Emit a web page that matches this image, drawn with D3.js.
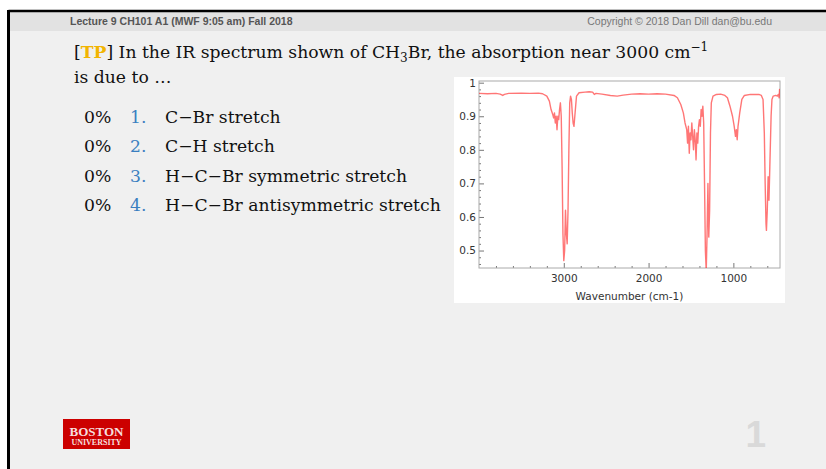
<!DOCTYPE html>
<html>
<head>
<meta charset="utf-8">
<script src="https://cdn.jsdelivr.net/npm/d3@7"></script>
<style>
  body { margin: 0; background: #fff; }
  svg { display: block; }
</style>
</head>
<body>
<div id="container"></div>
<script>
/* DATA */
const wavenumbers = [4000, 3900, 3800, 3750, 3720, 3700, 3650, 3500, 3400, 3300, 3250, 3200, 3170, 3150, 3130, 3120, 3110, 3100, 3090, 3080, 3070, 3060, 3050, 3040, 3030, 3020, 3010, 3000, 2990, 2980, 2970, 2960, 2950, 2940, 2930, 2920, 2910, 2900, 2890, 2880, 2870, 2860, 2850, 2820, 2750, 2700, 2660, 2640, 2620, 2550, 2450, 2370, 2300, 2200, 2100, 2000, 1900, 1800, 1700, 1660, 1620, 1590, 1570, 1550, 1540, 1530, 1520, 1510, 1500, 1490, 1480, 1470, 1460, 1450, 1440, 1430, 1420, 1410, 1400, 1390, 1380, 1370, 1360, 1350, 1340, 1330, 1320, 1310, 1300, 1290, 1280, 1270, 1260, 1240, 1200, 1150, 1100, 1070, 1040, 1010, 990, 975, 965, 955, 945, 925, 900, 870, 800, 700, 670, 650, 635, 625, 615, 610, 600, 590, 580, 570, 555, 545, 530, 500, 480, 470, 460, 455, 450];
const transmittance = [0.968, 0.967, 0.968, 0.966, 0.962, 0.965, 0.968, 0.969, 0.968, 0.969, 0.967, 0.960, 0.945, 0.92, 0.905, 0.895, 0.91, 0.88, 0.90, 0.86, 0.90, 0.89, 0.92, 0.94, 0.90, 0.75, 0.55, 0.47, 0.50, 0.62, 0.55, 0.52, 0.62, 0.80, 0.94, 0.96, 0.95, 0.91, 0.88, 0.87, 0.90, 0.93, 0.96, 0.97, 0.972, 0.973, 0.972, 0.965, 0.968, 0.966, 0.962, 0.960, 0.963, 0.966, 0.967, 0.966, 0.967, 0.966, 0.962, 0.955, 0.935, 0.91, 0.88, 0.86, 0.82, 0.87, 0.79, 0.85, 0.83, 0.88, 0.84, 0.80, 0.86, 0.83, 0.77, 0.85, 0.82, 0.87, 0.89, 0.87, 0.92, 0.90, 0.93, 0.88, 0.70, 0.50, 0.44, 0.55, 0.70, 0.54, 0.62, 0.85, 0.94, 0.96, 0.965, 0.966, 0.962, 0.955, 0.93, 0.90, 0.87, 0.84, 0.86, 0.83, 0.87, 0.91, 0.95, 0.962, 0.965, 0.965, 0.962, 0.95, 0.85, 0.70, 0.58, 0.56, 0.62, 0.72, 0.65, 0.75, 0.90, 0.95, 0.96, 0.962, 0.96, 0.965, 0.955, 0.98, 0.97];

const xTickValues = [3000, 2000, 1000];
const yTickValues = [0.5, 0.6, 0.7, 0.8, 0.9, 1];
const percents = ["0%", "0%", "0%", "0%"];
const choiceNumbers = ["1.", "2.", "3.", "4."];
const choices = ["C\u2212Br stretch", "C\u2212H stretch", "H\u2212C\u2212Br symmetric stretch", "H\u2212C\u2212Br antisymmetric stretch"];

/* CONSTANTS */
const width = 826, height = 469;
const plot = { left: 479, right: 780, top: 81, bottom: 268 };
const serif = "'DejaVu Serif', serif";
const sans = "'DejaVu Sans', sans-serif";

const svg = d3.select("#container")
  .append("svg")
  .attr("width", width)
  .attr("height", height);

/* SLIDE BACKGROUND */
svg.append("rect").attr("x", 8).attr("y", 11).attr("width", width - 8).attr("height", height - 11).attr("fill", "#f0f0f0");
svg.append("rect").attr("x", 8).attr("y", 11).attr("width", width - 8).attr("height", 20).attr("fill", "#e2e2e2");
svg.append("line").attr("x1", 8.5).attr("x2", width).attr("y1", 11).attr("y2", 11).attr("stroke", "#000").attr("stroke-width", 2.5);
svg.append("line").attr("x1", 8.5).attr("x2", 8.5).attr("y1", 10).attr("y2", height).attr("stroke", "#000").attr("stroke-width", 3);

// header
svg.append("text").attr("x", 70).attr("y", 25)
  .attr("font-family", "'Liberation Sans Narrow', 'Liberation Sans', sans-serif")
  .attr("font-weight", "bold").attr("font-size", 10.5).attr("fill", "#555")
  .text("Lecture 9 CH101 A1 (MWF 9:05 am) Fall 2018");
svg.append("text").attr("x", 772).attr("y", 25).attr("text-anchor", "end")
  .attr("font-family", "'Liberation Sans Narrow', 'Liberation Sans', sans-serif")
  .attr("font-size", 10.5).attr("fill", "#777")
  .text("Copyright \u00a9 2018 Dan Dill dan@bu.edu");

/* QUESTION */
const q = svg.append("text").attr("x", 74).attr("y", 58)
  .attr("font-family", serif).attr("font-size", 17.2).attr("fill", "#111");
q.append("tspan").text("[");
q.append("tspan").attr("fill", "#f2b400").attr("font-weight", "bold").text("TP");
q.append("tspan").text("] In the IR spectrum shown of CH");
q.append("tspan").attr("font-size", 12).attr("dy", 4).text("3");
q.append("tspan").attr("dy", -4).text("Br, the absorption near 3000 cm");
q.append("tspan").attr("font-size", 12).attr("dy", -7).text("\u22121");

svg.append("text").attr("x", 74).attr("y", 83)
  .attr("font-family", serif).attr("font-size", 17.2).attr("fill", "#111")
  .text("is due to \u2026");

const rows = svg.append("g").selectAll("g")
  .data(choices)
  .join("g")
  .attr("transform", (d, i) => `translate(0, ${123 + i * 29.3})`)
  .attr("font-family", serif).attr("font-size", 17.2);
rows.append("text").attr("x", 84).attr("fill", "#111").text((d, i) => percents[i]);
rows.append("text").attr("x", 130).attr("fill", "#3a7fc0").text((d, i) => choiceNumbers[i]);
rows.append("text").attr("x", 165).attr("fill", "#111").text(d => d);

/* SPECTRUM */
svg.append("rect").attr("x", 454).attr("y", 77).attr("width", 331).attr("height", 226).attr("fill", "#fff");

const xScale = d3.scaleLinear().domain([4000, 450]).range([plot.left, plot.right]);
const yScale = d3.scaleLinear().domain([0.448, 1.005]).range([plot.bottom, plot.top]);

svg.append("clipPath").attr("id", "plotclip")
  .append("rect").attr("x", plot.left).attr("y", plot.top)
  .attr("width", plot.right - plot.left).attr("height", plot.bottom - plot.top);

// minor ticks
const xMinor = d3.range(600, 4000, 200).filter(v => !xTickValues.includes(v));
const yMinor = d3.range(0.46, 1.0, 0.02).filter(v => !yTickValues.some(t => Math.abs(t - v) < 1e-6));

svg.append("g")
  .attr("transform", `translate(0, ${plot.bottom})`)
  .call(d3.axisBottom(xScale).tickValues(xMinor).tickSize(-2).tickFormat(""))
  .call(g => g.select(".domain").remove())
  .call(g => g.selectAll("line").attr("stroke", "#777"));
svg.append("g")
  .attr("transform", `translate(${plot.left}, 0)`)
  .call(d3.axisLeft(yScale).tickValues(yMinor).tickSize(-2).tickFormat(""))
  .call(g => g.select(".domain").remove())
  .call(g => g.selectAll("line").attr("stroke", "#777"));

// major ticks
svg.append("g")
  .attr("transform", `translate(0, ${plot.bottom})`)
  .call(d3.axisBottom(xScale).tickValues(xTickValues).tickSize(-5).tickPadding(7).tickFormat(d3.format("d")))
  .call(g => g.select(".domain").remove())
  .call(g => g.selectAll("line").attr("stroke", "#777"))
  .call(g => g.selectAll("text").attr("font-family", sans).attr("font-size", 10.5).attr("fill", "#333"));
svg.append("g")
  .attr("transform", `translate(${plot.left}, 0)`)
  .call(d3.axisLeft(yScale).tickValues(yTickValues).tickSize(-5).tickPadding(3).tickFormat(d3.format("")))
  .call(g => g.select(".domain").remove())
  .call(g => g.selectAll("line").attr("stroke", "#777"))
  .call(g => g.selectAll("text").attr("font-family", sans).attr("font-size", 10.5).attr("fill", "#333"));

svg.append("rect")
  .attr("x", plot.left).attr("y", plot.top)
  .attr("width", plot.right - plot.left).attr("height", plot.bottom - plot.top)
  .attr("fill", "none").attr("stroke", "#aaa");

const line = d3.line()
  .x((d, i) => xScale(wavenumbers[i]))
  .y(d => yScale(d));

svg.append("path")
  .datum(transmittance)
  .attr("clip-path", "url(#plotclip)")
  .attr("d", line)
  .attr("fill", "none")
  .attr("stroke", "#ff1a1a")
  .attr("stroke-opacity", 0.6)
  .attr("stroke-width", 1.4)
  .attr("stroke-linejoin", "round");

svg.append("text")
  .attr("x", (plot.left + plot.right) / 2).attr("y", 300)
  .attr("text-anchor", "middle")
  .attr("font-family", sans).attr("font-size", 10.5).attr("fill", "#333")
  .text("Wavenumber (cm-1)");

/* FOOTER */
svg.append("rect").attr("x", 63).attr("y", 419).attr("width", 67).attr("height", 30).attr("fill", "#cc0000");
svg.append("text").attr("x", 96.5).attr("y", 436).attr("text-anchor", "middle")
  .attr("font-family", "'Liberation Serif', serif").attr("font-weight", "bold")
  .attr("font-size", 13).attr("fill", "#f6dede").text("BOSTON");
svg.append("text").attr("x", 96.5).attr("y", 445).attr("text-anchor", "middle")
  .attr("font-family", "'Liberation Serif', serif").attr("font-weight", "bold")
  .attr("font-size", 8).attr("fill", "#f6dede").text("UNIVERSITY");

svg.append("text").attr("x", 766).attr("y", 447).attr("text-anchor", "end")
  .attr("font-family", "'Liberation Sans', sans-serif").attr("font-weight", "bold")
  .attr("font-size", 37).attr("fill", "#d9d9d9").text("1");
</script>
</body>
</html>
